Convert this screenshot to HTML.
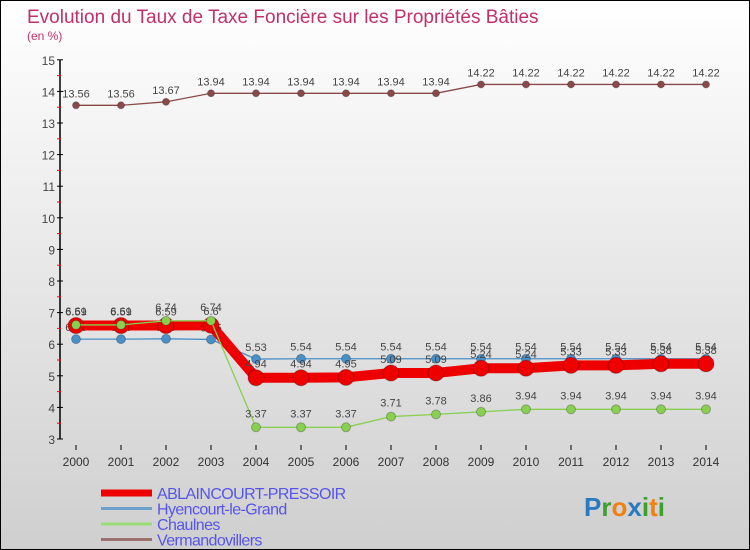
<!DOCTYPE html>
<html><head><meta charset="utf-8"><style>
body{margin:0;}
#wrap{position:relative;width:748px;height:548px;border:1px solid #000;background:linear-gradient(#ffffff,#cfcfcf);overflow:hidden;font-family:"Liberation Sans",sans-serif;}
</style></head><body>
<div id="wrap">
<svg id="chart" width="748" height="548"></svg>
</div>
<script>
const years=[2000,2001,2002,2003,2004,2005,2006,2007,2008,2009,2010,2011,2012,2013,2014];
const ablaincourt=[6.59,6.59,6.59,6.6,4.94,4.94,4.95,5.09,5.09,5.24,5.24,5.33,5.33,5.38,5.38];
const hyencourt=[6.16,6.16,6.17,6.15,5.53,5.54,5.54,5.54,5.54,5.54,5.54,5.54,5.54,5.54,5.54];
const chaulnes=[6.61,6.61,6.74,6.74,3.37,3.37,3.37,3.71,3.78,3.86,3.94,3.94,3.94,3.94,3.94];
const vermandovillers=[13.56,13.56,13.67,13.94,13.94,13.94,13.94,13.94,13.94,14.22,14.22,14.22,14.22,14.22,14.22];
const yTicks=[3,4,5,6,7,8,9,10,11,12,13,14,15];
const seriesNames=["ABLAINCOURT-PRESSOIR","Hyencourt-le-Grand","Chaulnes","Vermandovillers"];

const NS="http://www.w3.org/2000/svg";
const svg=document.getElementById('chart');
function mk(t,a,p){const e=document.createElementNS(NS,t);for(const k in a)e.setAttribute(k,a[k]);(p||svg).appendChild(e);return e;}
const x=i=>75+i*45;
const y=v=>438-(v-3)*31.6;

let t=mk('text',{x:26,y:22,fill:'#c0306a','font-size':19});t.textContent='Evolution du Taux de Taxe Foncière sur les Propriétés Bâties';


t=mk('text',{x:26,y:39,fill:'#c0306a','font-size':12});t.textContent='(en %)';



// axes
let ax=mk('line',{x1:59,y1:y(15),x2:59,y2:y(3),stroke:'#000','stroke-width':1.5});


yTicks.forEach(v=>{
  mk('line',{x1:56,x2:62,y1:y(v),y2:y(v),stroke:'#000'});
  if(v<15) mk('line',{x1:56,x2:60,y1:y(v+0.5),y2:y(v+0.5),stroke:'#f00'});
  const l=mk('text',{x:54,y:y(v)+5,'text-anchor':'end','font-size':12,fill:'#444'});l.textContent=v;
  
  
});
years.forEach((yr,i)=>{
  mk('line',{x1:x(i),x2:x(i),y1:444,y2:449,stroke:'#000'});
  const l=mk('text',{x:x(i),y:465,'text-anchor':'middle','font-size':12,fill:'#333'});l.textContent=yr;
  
  
});

function series(data,color,w,r,name,dy){
  const g=mk('g',{});
  
  
  mk('polyline',{points:data.map((v,i)=>x(i)+','+y(v)).join(' '),fill:'none',stroke:color,'stroke-width':w},g);
  data.forEach((v,i)=>{
    const c=mk('circle',{cx:x(i),cy:y(v),r:r,fill:color,stroke:'rgba(0,0,0,0.25)'},g);
    
    
    const l=mk('text',{x:x(i),y:y(v)+dy,'text-anchor':'middle','font-size':11,fill:'#444'},g);l.textContent=v;
  });
}
series(vermandovillers,'#8b4a4a',1.3,3.5,'series-vermandovillers',-8);
series(hyencourt,'#4a90c8',1.3,4.5,'series-hyencourt',-8);
series(ablaincourt,'#ee0000',10,8,'series-ablaincourt',-10);
series(chaulnes,'#88d050',1.3,4.5,'series-chaulnes',-10);

const cols=['#ee0000','#6fa0cc','#99dd77','#9a7070'];
const ws=[7,3,3,3];
seriesNames.forEach((n,k)=>{
  const yy=492+k*15.5;
  const g=mk('g',{});
  
  
  mk('line',{x1:100,x2:151,y1:yy,y2:yy,stroke:cols[k],'stroke-width':ws[k]},g);
  const l=mk('text',{x:156,y:yy+6,'font-size':16,fill:'#5555ee','letter-spacing':'-0.6'},g);l.textContent=n;
});
const lg=mk('text',{x:583,y:515,'font-size':26,'font-weight':'bold'});


[['P','#2a7ac0'],['r','#3aa030'],['o','#f08010'],['x','#2a7ac0'],['i','#3aa030'],['t','#f08010'],['i','#3aa030']].forEach(([c,f])=>{const s=mk('tspan',{fill:f},lg);s.textContent=c;});
</script>
</body></html>
